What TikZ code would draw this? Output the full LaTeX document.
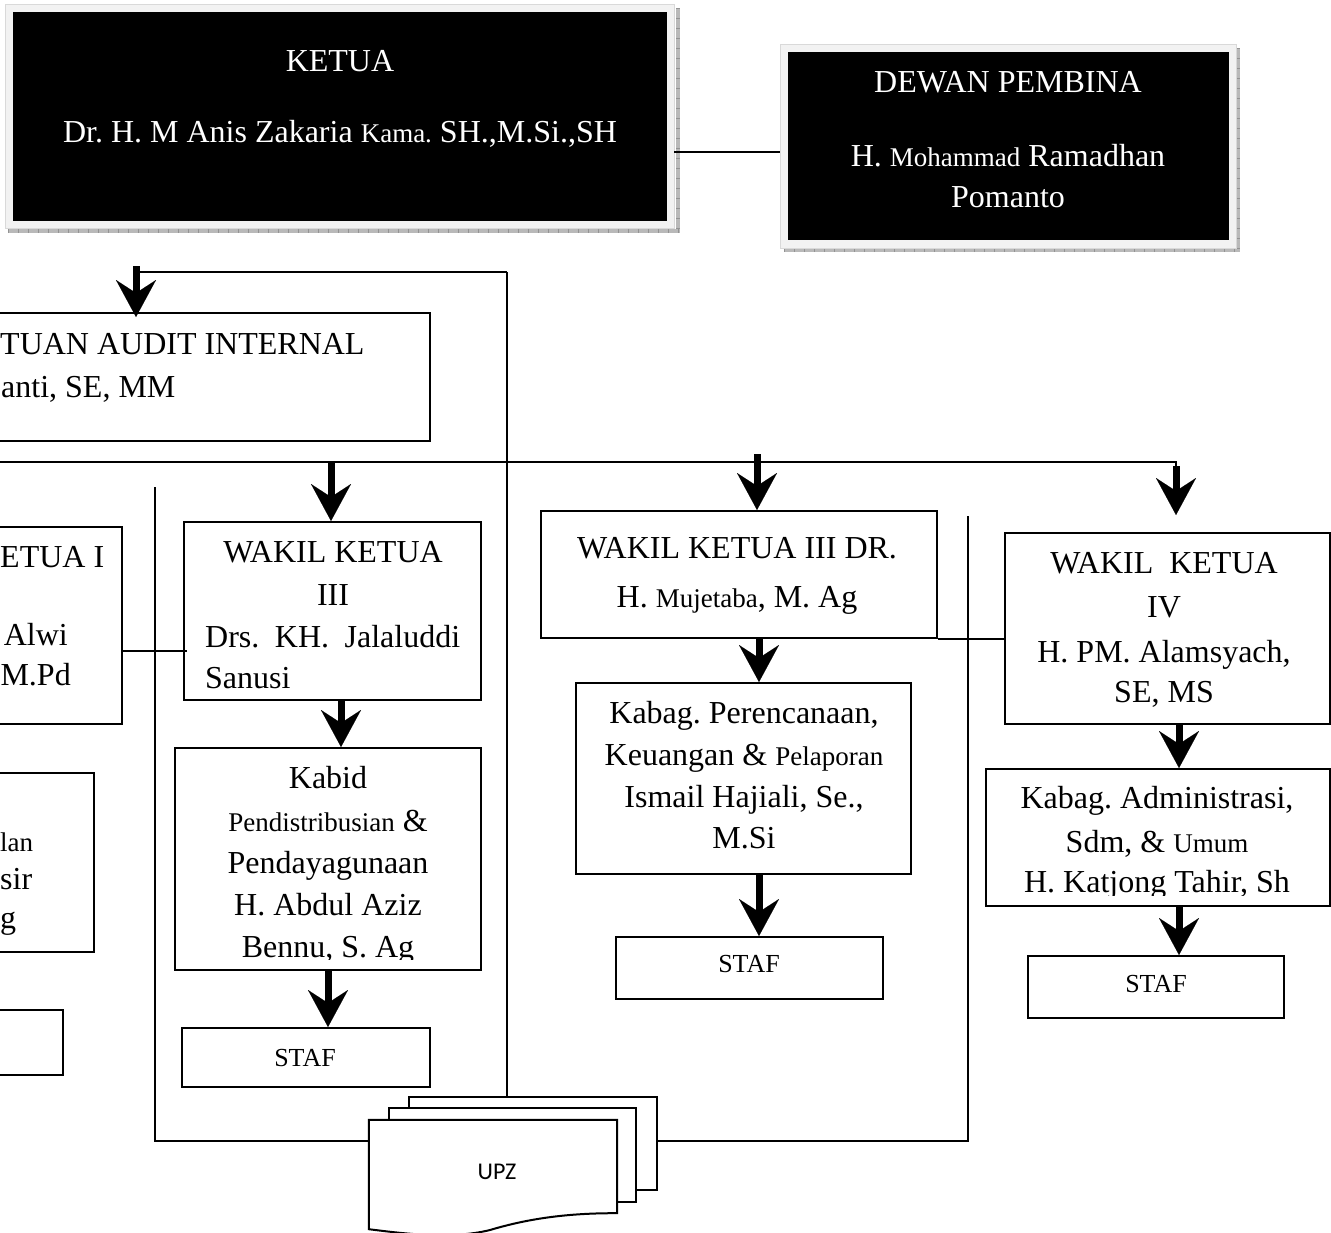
\documentclass[tikz,border=0pt]{standalone}
\usepackage{fontspec}
\setmainfont{Liberation Serif}
\newfontfamily\upzfont{Carlito}
\usetikzlibrary{arrows.meta,calc}
\newcommand\smallfnt{\fontsize{27}{30}\selectfont}
\begin{document}
\frenchspacing
\begin{tikzpicture}[x=1pt,y=-1pt,
  box/.style={draw=black, line width=2pt, fill=white, inner sep=0pt},
  blackbox/.style={draw=none, fill=black, inner sep=0pt},
  framebox/.style={draw=gray!30, line width=0.8pt, fill=gray!10, inner sep=0pt},
  big/.style={font=\fontsize{32}{42}\selectfont, inner sep=0pt, anchor=base},
  stafs/.style={font=\fontsize{26}{30}\selectfont, inner sep=0pt, anchor=base},
  conn/.style={line width=1.6pt},
  shadow/.style={line width=4pt, gray!55},
  shadowtick/.style={line width=4pt, gray!85, dash pattern=on 1pt off 9pt},
  bigarrow/.style={line width=7pt, -{Stealth[length=37pt,width=40pt,inset=13pt,line width=0.1pt]}},
]
\useasboundingbox (0,0) rectangle (1331,1232);
\clip (0,0) rectangle (1331,1232);

% ---------- black top boxes ----------
\draw[shadow] (8,231) -- (680,231) (678,8) -- (678,233);
\draw[shadowtick] (8,231) -- (680,231) (678,8) -- (678,233);
\node[framebox, minimum width=669pt, minimum height=224pt] (kframe) at (339.5,116) {};
\node[blackbox, minimum width=654pt, minimum height=209pt] (ketua) at (340,116.5) {};
\node[big, text=white] (k1) at (340,71) {KETUA};
\node[big, text=white] (k2) at (340,142) {Dr. H. M Anis Zakaria {\smallfnt Kama.} SH.,M.Si.,SH};

\draw[shadow] (784,250) -- (1240,250) (1238,48) -- (1238,252);
\draw[shadowtick] (784,250) -- (1240,250) (1238,48) -- (1238,252);
\node[framebox, minimum width=456pt, minimum height=204pt] (dframe) at (1008,146) {};
\node[blackbox, minimum width=441pt, minimum height=188pt] (dewan) at (1008.5,146) {};
\node[big, text=white] (d1) at (1008,92) {DEWAN PEMBINA};
\node[big, text=white] (d2) at (1008,166) {H. {\smallfnt Mohammad} Ramadhan};
\node[big, text=white] (d3) at (1008,207) {Pomanto};

\draw[conn] ([yshift=-36pt]kframe.east) -- ([yshift=-36pt]kframe.east -| dframe.west);

% ---------- white boxes ----------
\node[box, minimum width=730pt, minimum height=128pt] (sat) at (65,377) {};
\node[big, anchor=base west] (s1) at (0,354) {TUAN AUDIT INTERNAL};
\node[big, anchor=base west] (s2) at (1,397) {anti, SE, MM};

\node[box, minimum width=322pt, minimum height=197pt] (wk1) at (-39,625.5) {};
\node[big, anchor=base west] (w11) at (0,567) {ETUA I};
\node[big, anchor=base east] (w12) at (68,645) {Alwi};
\node[big, anchor=base east] (w13) at (71,685) {M.Pd};

\node[box, minimum width=294pt, minimum height=179pt] (lbox) at (-53,862.5) {};
\node[big, anchor=base west, font=\smallfnt] (l1) at (0,851) {lan};
\node[big, anchor=base west] (l2) at (0,889) {sir};
\node[big, anchor=base west] (l3) at (0,928) {g};

\node[box, minimum width=263pt, minimum height=65pt] (lbox2) at (-68.5,1042.5) {};

\node[box, minimum width=297pt, minimum height=178pt] (wk3a) at (332.5,611) {};
\node[big] (a1) at (333,562) {WAKIL KETUA};
\node[big] (a2) at (333,605) {III};
\node[big, anchor=base west] (a3) at (205,647) {\makebox[255pt][s]{Drs. KH. Jalaluddi}};
\node[big, anchor=base west] (a4) at (205,688) {Sanusi};

\node[box, minimum width=306pt, minimum height=222pt] (kabid) at (328,859) {};
\begin{scope}
\clip (175,740) rectangle (481,959);
\node[big] (b1) at (328,788) {Kabid};
\node[big] (b2) at (328,831) {{\smallfnt Pendistribusian} \&};
\node[big] (b3) at (328,873) {Pendayagunaan};
\node[big] (b4) at (328,915) {H. Abdul Aziz};
\node[big] (b5) at (328,957) {Bennu, S. Ag};
\end{scope}

\node[box, minimum width=248pt, minimum height=59pt] (staf1) at (306,1057.5) {};
\node[stafs] (st1) at (305,1066) {STAF};

\node[box, minimum width=396pt, minimum height=127pt] (wk3b) at (739,574.5) {};
\node[big] (c1) at (737,558) {WAKIL KETUA III DR.};
\node[big] (c2) at (737,607) {H. {\smallfnt Mujetaba}, M. Ag};

\node[box, minimum width=335pt, minimum height=191pt] (kabag1) at (743.5,778.5) {};
\node[big] (e1) at (744,723) {Kabag. Perencanaan,};
\node[big] (e2) at (744,765) {Keuangan \& {\smallfnt Pelaporan}};
\node[big] (e3) at (744,807) {Ismail Hajiali, Se.,};
\node[big] (e4) at (744,848) {M.Si};

\node[box, minimum width=267pt, minimum height=62pt] (staf2) at (749.5,968) {};
\node[stafs] (st2) at (749,972) {STAF};

\node[box, minimum width=325pt, minimum height=191pt] (wk4) at (1167.5,628.5) {};
\node[big] (f1) at (1164,573) {WAKIL\ \ KETUA};
\node[big] (f2) at (1164,617) {IV};
\node[big] (f3) at (1164,662) {H. PM. Alamsyach,};
\node[big] (f4) at (1164,702) {SE, MS};

\node[box, minimum width=344pt, minimum height=137pt] (kabag2) at (1158,837.5) {};
\begin{scope}
\clip (986,769) rectangle (1330,895);
\node[big] (g1) at (1157,808) {Kabag. Administrasi,};
\node[big] (g2) at (1157,852) {Sdm, \& {\smallfnt Umum}};
\node[big] (g3) at (1157,892) {H. Katjong Tahir, Sh};
\end{scope}

\node[box, minimum width=256pt, minimum height=62pt] (staf3) at (1156,987) {};
\node[stafs] (st3) at (1156,992) {STAF};

% ---------- connectors ----------
\coordinate (tA) at (136,266);
\coordinate (rB) at (507,272);
\coordinate (mL) at (0,462);
\coordinate (mR) at (1176,462);
\coordinate (m1) at (331,462);
\coordinate (m2) at (757,454);
\coordinate (m3) at (1176,466);
\coordinate (m3tip) at (1176,515);
\coordinate (lT) at (155,487);
\coordinate (lB) at (155,1141);
\coordinate (rT) at (968,516);
\coordinate (rBt) at (968,1141);

\draw[conn] ([xshift=3pt,yshift=-6pt]tA) -- (rB);
\draw[bigarrow] (tA) -- ([yshift=-5pt]tA |- sat.north);
\draw[conn] (mL) -- (mR) -- (m3);
\draw[bigarrow] (m1) -- (m1 |- wk3a.north);
\draw[bigarrow] (m2) -- (m2 |- wk3b.north);
\draw[bigarrow] (m3) -- (m3tip);

\draw[conn] ([yshift=-25.5pt]wk1.east) -- ([yshift=-25.5pt,xshift=4pt]wk1.east -| wk3a.west);
\draw[conn] (wk3b.south east) -- (wk3b.south east -| wk4.west);

\draw[bigarrow] ([xshift=8.5pt]wk3a.south) -- ([xshift=8.5pt]wk3a.south |- kabid.north);
\draw[bigarrow] (kabid.south) -- (kabid.south |- staf1.north);
\draw[bigarrow] ([xshift=20pt]wk3b.south) -- ([xshift=20pt]wk3b.south |- kabag1.north);
\draw[bigarrow] ([xshift=15.5pt]kabag1.south) -- ([xshift=15.5pt]kabag1.south |- staf2.north);
\draw[bigarrow] ([xshift=11.5pt]wk4.south) -- ([xshift=11.5pt]wk4.south |- kabag2.north);
\draw[bigarrow] ([xshift=21pt]kabag2.south) -- ([xshift=21pt]kabag2.south |- staf3.north);

% ---------- UPZ stack ----------
\node[box, minimum width=248pt, minimum height=93pt] (upzb) at (533,1143.5) {};
\node[box, minimum width=247pt, minimum height=94pt] (upzm) at (512.5,1155) {};
\node[inner sep=0pt, minimum width=248pt, minimum height=108pt] (upzf) at (493,1174) {};
\filldraw[fill=white, draw=black, line width=2pt] (upzf.north west) -- (upzf.north east) -- ([yshift=15pt]upzf.south east)
  .. controls (570,1213) and (530,1218) .. (490,1230)
  .. controls (450,1240) and (400,1233) .. ([yshift=-1pt]upzf.south west) -- cycle;
\node[inner sep=0pt, font=\upzfont\fontsize{24}{28}\selectfont] (upz) at (497,1172) {UPZ};

\draw[conn] (rB) -- (rB |- upzb.north);
\draw[conn] (lT) -- (lB) -- (lB -| upzf.west);
\draw[conn] (rT) -- (rBt) -- (rBt -| upzb.east);
\end{tikzpicture}
\end{document}
